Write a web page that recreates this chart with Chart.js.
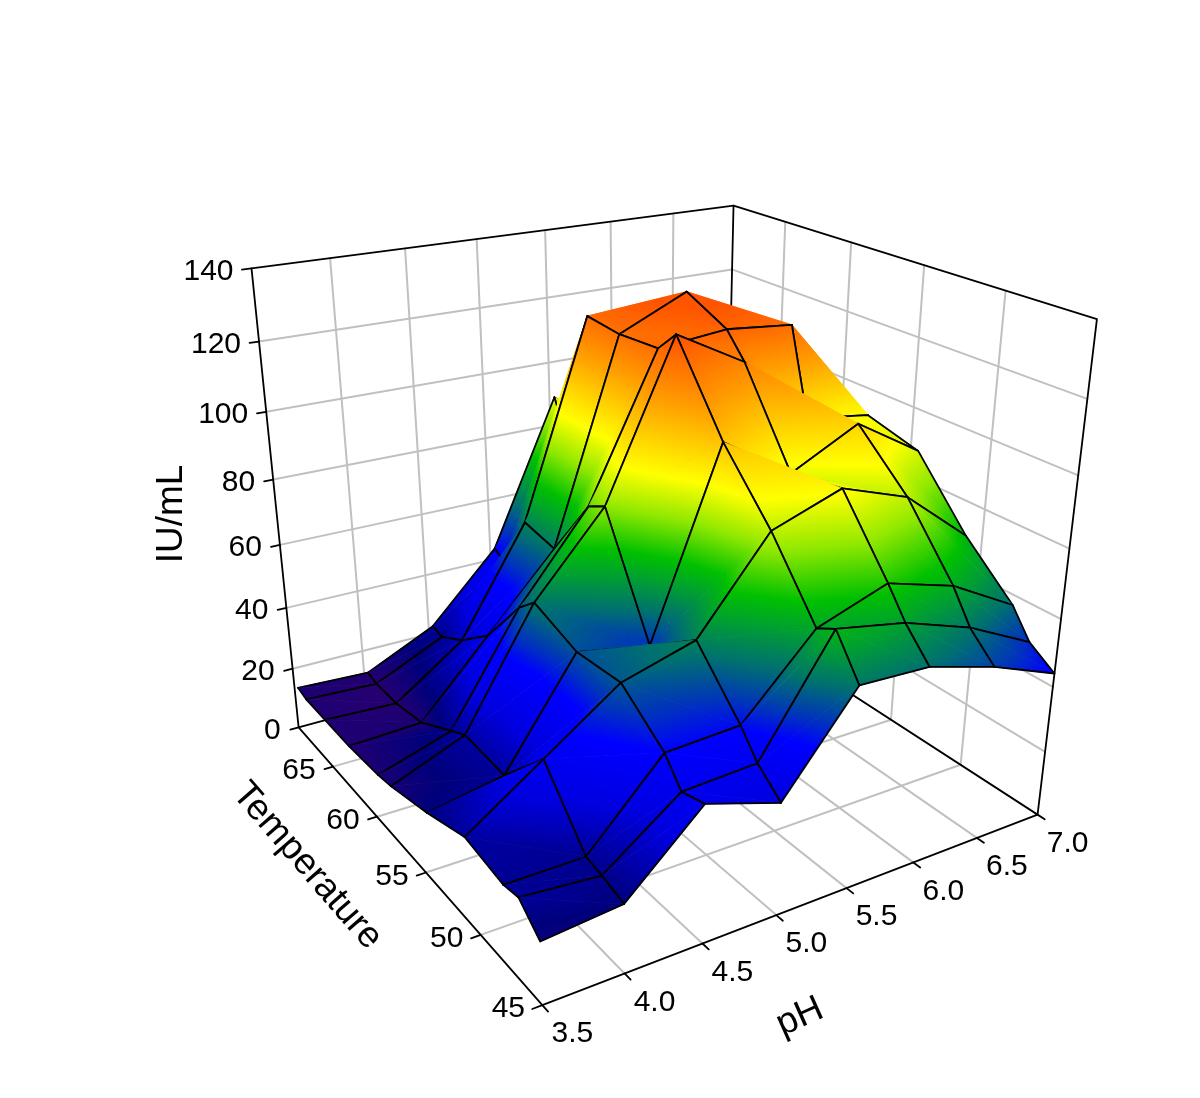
<!DOCTYPE html>
<html>
<head>
<meta charset="utf-8">
<script src="https://cdn.jsdelivr.net/npm/chart.js@4"></script>
<style>html,body{margin:0;background:#fff}canvas{display:block}</style>
</head>
<body>
<canvas id="myChart" width="1200" height="1098"></canvas>
<script>
const phValues = [3.5, 4.0, 4.5, 5.0, 5.5, 6.0, 6.5, 7.0];
const tempValues = [45, 46.6, 47.8, 51, 54.5, 58.1, 59.5, 62.7, 65.5, 67.8, 68.8];
// IU/mL, one row per temperature. The back right part is hidden in the picture, so estimated
const iuValues = [
  [18, 20, 40, 33, 59, 58, 52, 44],
  [24, 22, 38, 39, 70, 66, 59, 49],
  [23, 23, 45, 46, 67, 74, 68, 57],
  [25, 40, 55, 61, 86, 93, 86, 70],
  [20, 24, 54, 50, 103, 90, 100, 88],
  [16, 25, 59, 82, 126, 115, 95, 92],
  [15, 22, 54, 79, 120, 122, 120, 70],
  [14, 15, 37, 59, 119, 128, 108, 60],
  [14, 13, 28, 61, 120, 105, 85, 50],
  [14, 13, 23, 43, 80, 76, 62, 45],
  [15, 14, 24, 45, 90, 72, 58, 42],
];
const phTicks = ['3.5', '4.0', '4.5', '5.0', '5.5', '6.0', '6.5', '7.0'];
const tempTicks = [45, 50, 55, 60, 65];
const iuTicks = [0, 20, 40, 60, 80, 100, 120, 140];
const tempMax = 69.3;
const iuMax = 140;

// height -> colour of the surface
const colorLevels = [12, 20, 33, 45, 50, 58, 66, 72, 82, 92, 110, 125];
const colorValues = ['#2a006e', '#00007c', '#0000e0', '#0000ff', '#0030c0', '#007070', '#00a030', '#00c000',
  '#90e800', '#ffff00', '#ff9c00', '#ff5500'];

// where the box of the plot sits on the page: [u, v, w, x, y]
const tempSpan = tempMax - tempValues[0];
const boxAnchors = [
  [0, 0, 0, 541, 1005], [1, 0, 0, 1036, 815], [0, 1, 0, 299, 728], [0, 1, 1, 252, 268],
  [1, 0, 1, 1097, 320], [1, 1, 1, 733, 205], [3 / 7, 0, 0, 777, 915], [0, 10 / tempSpan, 0, 425, 872],
  [0, 1, 60 / 140, 280, 546], [5 / 7, 0, 0, 916, 862], [0, 15 / tempSpan, 0, 377, 816],
];

function solve(A, b) {
  const n = b.length;
  const M = A.map((r, i) => [...r, b[i]]);
  for (let c = 0; c < n; c++) {
    let p = c;
    for (let r = c; r < n; r++) if (Math.abs(M[r][c]) > Math.abs(M[p][c])) p = r;
    [M[c], M[p]] = [M[p], M[c]];
    for (let r = 0; r < n; r++) {
      if (r === c) continue;
      const f = M[r][c] / M[c][c];
      for (let k = c; k <= n; k++) M[r][k] -= f * M[c][k];
    }
  }
  return M.map((r, i) => r[n] / r[i]);
}

// least squares fit of the perspective camera
function fitCamera(pts) {
  const N = Array.from({ length: 11 }, () => Array(11).fill(0));
  const B = Array(11).fill(0);
  const add = (r, v) => {
    for (let a = 0; a < 11; a++) {
      B[a] += r[a] * v;
      for (let c = 0; c < 11; c++) N[a][c] += r[a] * r[c];
    }
  };
  for (const [u, v, w, x, y] of pts) {
    add([u, v, w, 1, 0, 0, 0, 0, -x * u, -x * v, -x * w], x);
    add([0, 0, 0, 0, u, v, w, 1, -y * u, -y * v, -y * w], y);
  }
  return solve(N, B);
}
const cam = fitCamera(boxAnchors);

function project(u, v, w) {
  const d = cam[8] * u + cam[9] * v + cam[10] * w + 1;
  return {
    x: (cam[0] * u + cam[1] * v + cam[2] * w + cam[3]) / d,
    y: (cam[4] * u + cam[5] * v + cam[6] * w + cam[7]) / d,
  };
}
const uOf = (ph) => (ph - phValues[0]) / (phValues[phValues.length - 1] - phValues[0]);
const vOf = (t) => (t - tempValues[0]) / tempSpan;
const wOf = (z) => z / iuMax;
const vertex = (i, j) => project(uOf(phValues[j]), vOf(tempValues[i]), wOf(iuValues[i][j]));

function colorAt(z) {
  const last = colorLevels.length - 1;
  if (z <= colorLevels[0]) return colorValues[0];
  if (z >= colorLevels[last]) return colorValues[last];
  let k = 0;
  while (colorLevels[k + 1] < z) k++;
  const t = (z - colorLevels[k]) / (colorLevels[k + 1] - colorLevels[k]);
  const hex = (s, a) => parseInt(s.substr(a, 2), 16);
  const mix = (a) => Math.round(hex(colorValues[k], a) * (1 - t) + hex(colorValues[k + 1], a) * t);
  return `rgb(${mix(1)},${mix(3)},${mix(5)})`;
}

const canvas = document.getElementById('myChart');
const ctx2d = canvas.getContext('2d');

// colour of a triangle: height is linear across it, so one linear gradient does it
function triangleFill(p, z) {
  const a = (p[1].x - p[0].x) * (p[2].y - p[0].y) - (p[2].x - p[0].x) * (p[1].y - p[0].y);
  const lo = Math.min(...z);
  const hi = Math.max(...z);
  if (Math.abs(a) < 2 || hi - lo < 0.01) return colorAt((z[0] + z[1] + z[2]) / 3);
  const gx = ((z[1] - z[0]) * (p[2].y - p[0].y) - (z[2] - z[0]) * (p[1].y - p[0].y)) / a;
  const gy = ((z[2] - z[0]) * (p[1].x - p[0].x) - (z[1] - z[0]) * (p[2].x - p[0].x)) / a;
  const g2 = gx * gx + gy * gy;
  const at = (v) => [p[0].x + gx * (v - z[0]) / g2, p[0].y + gy * (v - z[0]) / g2];
  const grad = ctx2d.createLinearGradient(...at(lo), ...at(hi));
  grad.addColorStop(0, colorAt(lo));
  colorLevels.forEach((lv) => {
    if (lv > lo && lv < hi) grad.addColorStop((lv - lo) / (hi - lo), colorAt(lv));
  });
  grad.addColorStop(1, colorAt(hi));
  return grad;
}

const datasets = [];
function addLine(points, color, width) {
  datasets.push({ data: points, showLine: true, borderColor: color, borderWidth: width, borderJoinStyle: 'round', borderCapStyle: 'round', pointRadius: 0, fill: false, tension: 0, clip: false });
}
function addTriangle(p, z) {
  const fill = triangleFill(p, z);
  datasets.push({ data: [...p, p[0]], showLine: true, backgroundColor: fill, borderColor: fill, borderWidth: 0.8, borderJoinStyle: 'round', pointRadius: 0, fill: 'shape', tension: 0, clip: false });
}

// walls and floor
const gridColor = '#c0c0c0';
iuTicks.slice(1, -1).forEach((z) => {
  addLine([project(0, 1, wOf(z)), project(1, 1, wOf(z)), project(1, 0, wOf(z))], gridColor, 2);
});
phTicks.slice(1, -1).forEach((s) => {
  const u = uOf(Number(s));
  addLine([project(u, 0, 0), project(u, 1, 0), project(u, 1, 1)], gridColor, 2);
});
tempTicks.slice(1).forEach((t) => {
  const v = vOf(t);
  addLine([project(0, v, 0), project(1, v, 0), project(1, v, 1)], gridColor, 2);
});
const frame = [
  [[0, 1, 0], [0, 1, 1], [1, 1, 1], [1, 0, 1], [1, 0, 0], [0, 0, 0], [0, 1, 0], [1, 1, 0], [1, 0, 0]],
  [[1, 1, 0], [1, 1, 1]],
];
frame.forEach((path) => addLine(path.map((c) => project(c[0], c[1], c[2])), '#000', 1.8));
iuTicks.forEach((z) => addLine([project(0, 1, wOf(z)), project(-0.017, 1, wOf(z))], '#000', 1.8));
tempTicks.forEach((t) => addLine([project(0, vOf(t), 0), project(-0.017, vOf(t), 0)], '#000', 1.8));
phTicks.forEach((s) => addLine([project(uOf(Number(s)), 0, 0), project(uOf(Number(s)), -0.018, 0)], '#000', 1.8));

// surface, far cells first. Each triangle gets its own two mesh edges so the fold hides what is behind it
for (let i = tempValues.length - 2; i >= 0; i--) {
  for (let j = phValues.length - 2; j >= 0; j--) {
    const a = vertex(i, j);
    const b = vertex(i + 1, j);
    const c = vertex(i + 1, j + 1);
    const d = vertex(i, j + 1);
    const z = iuValues;
    addTriangle([b, c, d], [z[i + 1][j], z[i + 1][j + 1], z[i][j + 1]]);
    addLine([b, c, d], '#000', 1.8);
    addTriangle([a, b, d], [z[i][j], z[i + 1][j], z[i][j + 1]]);
    addLine([b, a, d], '#000', 1.8);
  }
}
datasets.forEach((ds, k) => { ds.order = datasets.length - k; });

const axisText = {
  id: 'axisText',
  afterDraw(chart) {
    const { ctx, scales } = chart;
    const at = (p) => [scales.x.getPixelForValue(p.x), scales.y.getPixelForValue(p.y)];
    ctx.save();
    ctx.fillStyle = '#000';
    ctx.textBaseline = 'middle';
    ctx.font = '30px "Liberation Sans"';
    ctx.textAlign = 'right';
    iuTicks.forEach((z) => {
      const [x, y] = at(project(0, 1, wOf(z)));
      ctx.fillText(String(z), x - 18, y + 3);
    });
    ctx.textAlign = 'center';
    tempTicks.forEach((t) => {
      const [x, y] = at(project(0, vOf(t), 0));
      ctx.fillText(String(t), x - 34, y + 4);
    });
    phTicks.forEach((s) => {
      const [x, y] = at(project(uOf(Number(s)), 0, 0));
      ctx.fillText(s, x + 30, y + 29);
    });
    ctx.font = '37px "Liberation Sans"';
    const title = (text, x, y, deg) => {
      ctx.save();
      ctx.translate(x, y);
      ctx.rotate(deg * Math.PI / 180);
      ctx.fillText(text, 0, 0);
      ctx.restore();
    };
    title('IU/mL', 172, 514, -90);
    title('Temperature', 307, 866, 49);
    title('pH', 800, 1017, -24);
    ctx.restore();
  },
};

new Chart(canvas, {
  type: 'scatter',
  data: { datasets },
  options: {
    responsive: false,
    animation: false,
    layout: { padding: 0 },
    scales: {
      x: { type: 'linear', display: false, min: 0, max: 1200 },
      y: { type: 'linear', display: false, min: 0, max: 1098, reverse: true },
    },
    plugins: { legend: { display: false }, tooltip: { enabled: false } },
  },
  plugins: [axisText],
});
</script>
</body>
</html>
